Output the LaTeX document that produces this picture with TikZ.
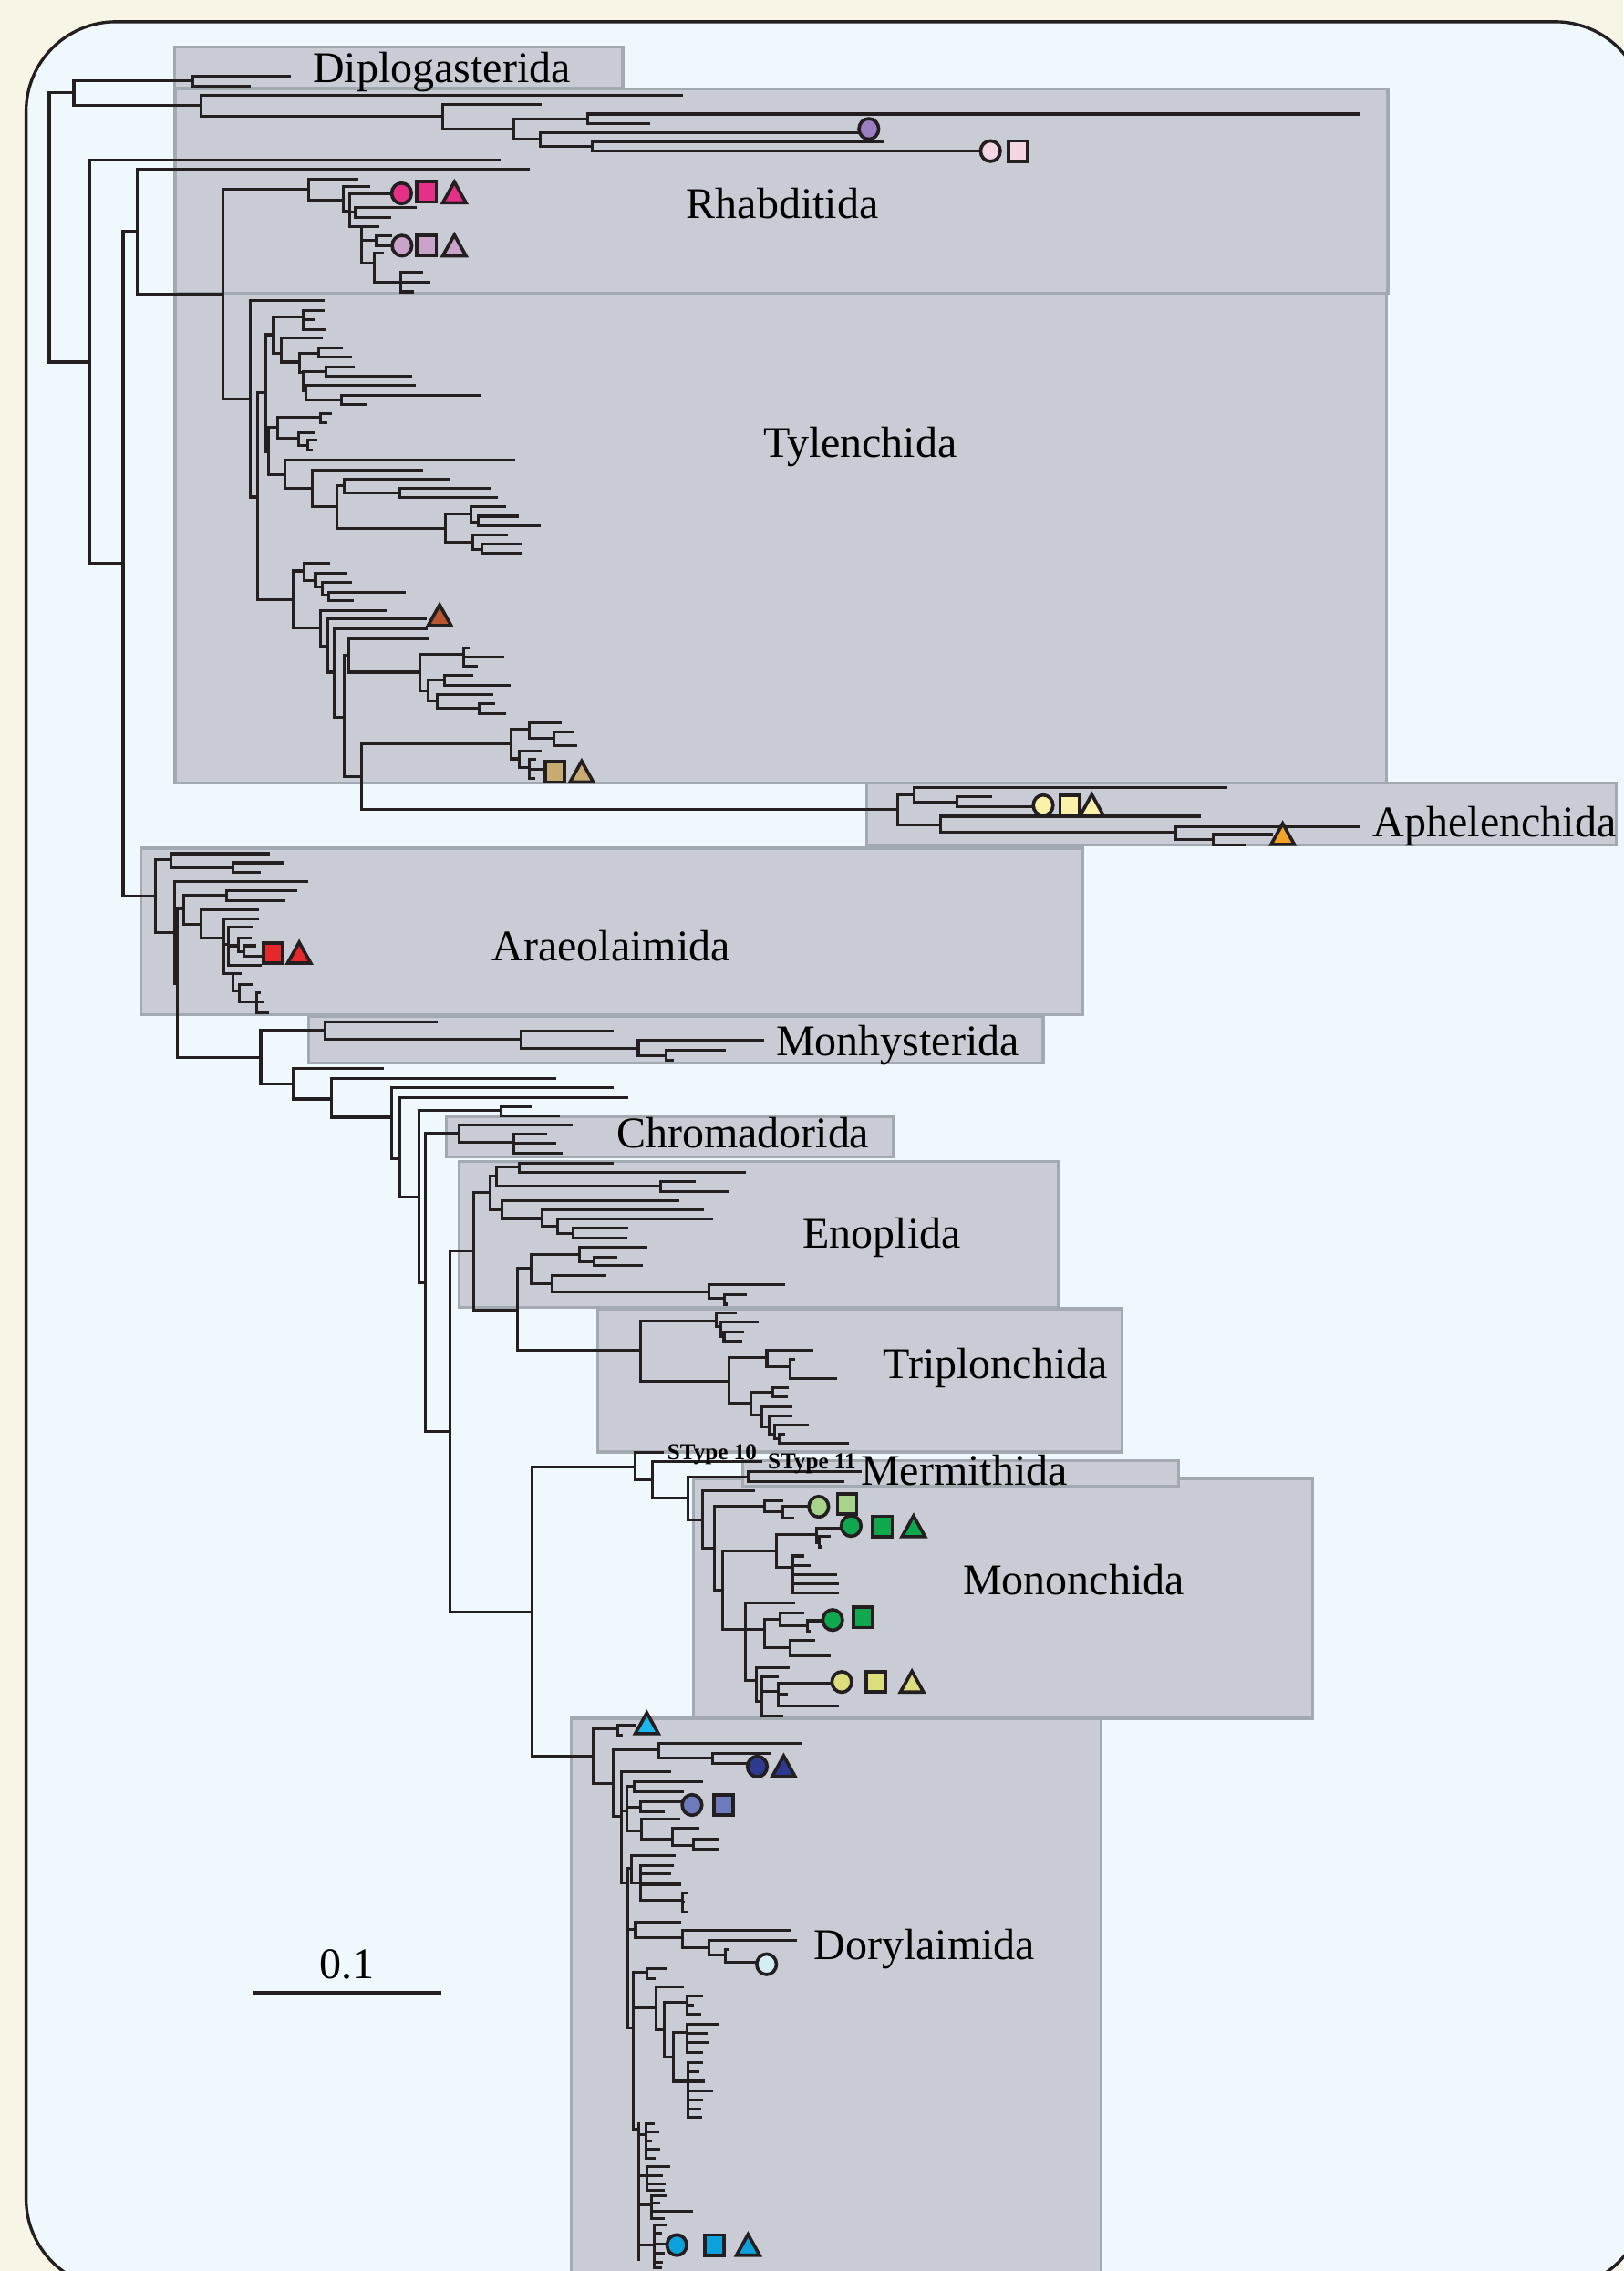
\documentclass[tikz,border=0pt]{standalone}
\usepackage{fontspec}
\setmainfont{Liberation Serif}
\definecolor{cream}{HTML}{F8F5E6}
\definecolor{framebg}{HTML}{EEF8FD}
\definecolor{boxfill}{HTML}{C9CCD4}
\definecolor{boxline}{HTML}{A3A9B1}
\definecolor{treeline}{HTML}{231F20}
\definecolor{cPurple}{HTML}{9C7FBF}
\definecolor{cPink}{HTML}{F4D5E5}
\definecolor{cMagenta}{HTML}{E62F86}
\definecolor{cMauve}{HTML}{C9A3CA}
\definecolor{cBrown}{HTML}{B95530}
\definecolor{cTan}{HTML}{C8AB72}
\definecolor{cLYellow}{HTML}{FBF2AA}
\definecolor{cOrange}{HTML}{F2A22A}
\definecolor{cRed}{HTML}{E4282C}
\definecolor{cLGreen}{HTML}{A8D38A}
\definecolor{cGreen}{HTML}{0FA84F}
\definecolor{cYGreen}{HTML}{DCDD7C}
\definecolor{cCyan}{HTML}{1BB7EC}
\definecolor{cNavy}{HTML}{2E3A8F}
\definecolor{cSlate}{HTML}{6E7CBE}
\definecolor{cLCyan}{HTML}{D4EEF6}
\definecolor{cBlue}{HTML}{0DA2DB}
\tikzset{
  tl/.style={draw=treeline, line width=0.55pt, line cap=rect},
  box/.style={fill=boxfill, draw=boxline, line width=0.6pt},
  mk/.style={draw=treeline, line width=0.65pt, line join=miter},
  lab/.style={font=\fontsize{8.6}{10}\selectfont, inner sep=0pt, text=black},
  stl/.style={font=\fontsize{4.5}{5}\selectfont\bfseries, inner sep=0pt, text=black}
}
\newcommand\mnd[4]{\draw[tl] (#1,#2)--(#1,#3);\foreach \yy/\ee in {#4}{\draw[tl] (#1,\yy)--(\ee,\yy);}}
\newcommand\mcirc[3]{\filldraw[mk,fill=#3] (#1,#2) ellipse [x radius=6.8, y radius=7.1];}
\newcommand\msq[3]{\filldraw[mk,fill=#3,shift={(#1,#2)}] (-6.7,-7) rectangle (6.7,7);}
\newcommand\mtri[3]{\filldraw[mk,fill=#3,shift={(#1,#2)}] (-8,7) -- (8,7) -- (0,-7.4) -- cycle;}
\begin{document}
\begin{tikzpicture}[x=0.1mm,y=-0.1mm]
\useasboundingbox (0,0) rectangle (1121,1568);
\fill[cream] (0,0) rectangle (1121,1568);
\filldraw[fill=framebg, draw=treeline, line width=0.6pt, rounded corners=6.2mm] (18,15) rectangle (1136,1580);
% clade boxes
\filldraw[box] (120.4,32.5) rectangle (430.2,60.9);
\filldraw[box] (120.8,61.3) rectangle (958.4,202.6);
\filldraw[box] (120.8,202.6) rectangle (957.3,540.8);
\filldraw[box] (598.6,540.4) rectangle (1116.2,583.6);
\filldraw[box] (97.4,585.6) rectangle (747.9,700.6);
\filldraw[box] (213.2,701.7) rectangle (720.5,734);
\filldraw[box] (308.2,770.7) rectangle (616.7,798.7);
\filldraw[box] (317,801.9) rectangle (731,902.7);
\filldraw[box] (412.8,903.7) rectangle (775,1002.4);
\filldraw[box] (479,1020.8) rectangle (906.4,1186.4);
\filldraw[box] (512.9,1008.6) rectangle (814,1026.5);
\filldraw[box] (394.7,1186.4) rectangle (760.2,1590);
% ---- tree: top
\mnd{34}{64}{250}{64/51, 250/62}
\mnd{51}{55.6}{73}{55.6/133, 73/139}
\mnd{133}{52.7}{59.4}{52.7/200, 59.4/172}
\mnd{139}{65.7}{80.4}{65.7/471, 80.4/306}
\mnd{306}{72}{89.2}{72/373, 89.2/355}
\mnd{355}{81.9}{96.1}{81.9/406, 96.1/373}
\mnd{406}{78.7}{85.2}{78.7/938, 85.2/448}
\mnd{373}{91.7}{101.2}{91.7/593, 101.2/409}
\mnd{409}{97.6}{104.3}{97.6/610, 104.3/677}
\mnd{62}{110.6}{389}{110.6/345, 389/85}
\mnd{85}{159.5}{618.6}{159.5/95, 618.6/107.2}
\mnd{95}{117}{203}{117/365, 203/154}
\mnd{154}{130.8}{275.2}{130.8/213.3, 275.2/172.6}
% Rhabditida clade 2
\mnd{213.3}{123.8}{138.1}{123.8/246.6, 138.1/236.8}
\mnd{236.8}{128.6}{145.9}{128.6/254.9, 145.9/241.5}
\mnd{241.5}{134}{156.4}{134/270, 146.5/245.1, 156.4/249.5}
\mnd{245.1}{143.4}{149.9}{143.4/286.7, 149.9/269.3}
\mnd{249.5}{156.4}{181.6}{156.4/261, 166/259.6, 181.6/258.5}
\mnd{259.6}{162.7}{169.6}{162.7/270, 169.6/270}
\mnd{258.5}{175}{194.8}{175/264, 194.8/276.6}
\mnd{276.6}{187.9}{201.5}{187.9/291, 194.8/296.5, 201.5/284.9}
% Tylenchida
\mnd{172.6}{207.7}{343.2}{207.7/223.5, 343.2/177.7}
\mnd{177.7}{271.3}{414.3}{271.3/183.3, 414.3/202.4}
\mnd{183.3}{231.1}{311.8}{231.1/188.9, 311.8/185.5}
\mnd{188.9}{219}{243.9}{219/209.4, 243.9/194.5}
\mnd{209.4}{214.2}{227.5}{214.2/223, 220.7/217, 227.5/224}
\mnd{194.5}{233.5}{250}{233.5/222.1, 250/206.6}
\mnd{206.6}{243.9}{257}{243.9/219.8, 257/209.4}
\mnd{219.8}{240}{246.7}{240/235.6, 246.7/241.8}
\mnd{209.4}{256.5}{270}{256.5/224.9, 270/211.4}
\mnd{224.9}{253.5}{260}{253.5/244, 260/283.4}
\mnd{211.4}{266}{276}{266/286.2, 276/235.6}
\mnd{235.6}{272.8}{279.3}{272.8/330.9, 279.3/252.2}
\mnd{185.5}{295}{327.5}{295/192, 327.5/196.8}
\mnd{192}{288.2}{302.7}{288.2/221.5, 302.7/206}
\mnd{221.5}{285.3}{292}{285.3/228.3, 292/225}
\mnd{206}{298.6}{307.5}{298.6/216.5, 307.5/212.3}
\mnd{212.3}{304}{311}{304/217.9, 311/215}
\mnd{196.8}{317.8}{337.1}{317.8/354.8, 337.1/215.9}
\mnd{215.9}{324.4}{349.9}{324.4/291, 349.9/232.8}
\mnd{232.8}{335.2}{364.8}{335.2/237.6, 364.8/307.8}
\mnd{237.6}{331.1}{340.3}{331.1/309.8, 340.3/276}
\mnd{276}{337.1}{343.6}{337.1/338, 343.6/343}
\mnd{307.8}{354.7}{374.5}{354.7/325.5, 374.5/326.7}
\mnd{325.5}{349.9}{360.5}{349.9/348.6, 360.5/330.5}
\mnd{330.5}{356.4}{362.9}{356.4/357.6, 362.9/372.5}
\mnd{326.7}{369.2}{379.3}{369.2/350, 379.3/333}
\mnd{333}{375.7}{382.2}{375.7/359.3, 382.2/359.3}
\mnd{202.4}{394.2}{433.5}{394.2/210.3, 433.5/221.3}
\mnd{210.3}{388.9}{401}{388.9/227.2, 401/217.9}
\mnd{217.9}{395.5}{405}{395.5/239, 405/222.7}
\mnd{222.7}{402.2}{411}{402.2/241.8, 411/227.2}
\mnd{227.2}{408.7}{414.7}{408.7/279.2, 414.7/243.2}
\mnd{221.3}{421.5}{446.3}{421.5/266.2, 446.3/226.3}
\mnd{226.3}{427.5}{464.1}{427.5/294, 464.1/231.1}
\mnd{231.1}{434.3}{495}{434.3/294.3, 495/237.6}
\mnd{237.6}{452.3}{536.4}{452.3/241, 536.4/249.6}
\mnd{241}{440.8}{464.1}{440.8/295.2, 464.1/290.1}
\mnd{290.1}{451.6}{477}{451.6/320, 477/295.8}
\mnd{320}{447.3}{460}{447.3/323.3, 453.5/347.2, 460/328.9}
\mnd{295.8}{469.7}{484.1}{469.7/307, 484.1/301.7}
\mnd{307}{466.5}{473.3}{466.5/325.6, 473.3/351.4}
\mnd{301.7}{479.3}{489}{479.3/339.6, 489/331.2}
\mnd{331.2}{485.8}{492.6}{485.8/340.7, 492.6/348.6}
\mnd{249.6}{513.8}{558.9}{513.8/352.8, 558.9/619.7}
\mnd{352.8}{503.4}{523.9}{503.4/365.5, 523.9/358.4}
\mnd{365.5}{499.1}{509.8}{499.1/387.1, 509.8/382.3}
\mnd{382.3}{505.1}{514.5}{505.1/395, 514.5/397.8}
\mnd{358.4}{518.4}{530}{518.4/373, 530/365.5}
\mnd{365.5}{524.3}{537.7}{524.3/369.4, 531/376, 537.7/368.5}
% Aphelenchida
\mnd{619.7}{548.9}{569.3}{548.9/631, 569.3/649.7}
\mnd{631}{543.7}{553.8}{543.7/846.6, 553.8/660.7}
\mnd{660.7}{550}{556.7}{550/684.4, 556.7/713}
\mnd{649.7}{563.6}{574.5}{563.6/828.2, 574.5/812.3}
\mnd{812.3}{570.6}{579.4}{570.6/937.7, 579.4/838.1}
\mnd{838.1}{576.2}{583.6}{576.2/878, 583.6/859.3}
% Araeolaimida
\mnd{107.2}{593.6}{644}{593.6/118.2, 644/120.4}
\mnd{118.2}{589.4}{599.2}{589.4/185.4, 599.2/161.1}
\mnd{161.1}{595.7}{602.4}{595.7/194.7, 602.4/179.2}
\mnd{120.4}{608.7}{679}{608.7/211.9, 679/122.6}
\mnd{122.6}{627.6}{730}{627.6/127.1, 730/180.1}
\mnd{127.1}{618.1}{638}{618.1/156.7, 638/139}
\mnd{156.7}{615}{621.7}{615/204.4, 621.7/196.4}
\mnd{139}{628.2}{647.5}{628.2/177.9, 647.5/154.5}
\mnd{154.5}{634.5}{672}{634.5/177.9, 652/158, 672/161}
\mnd{158}{640.2}{666.4}{640.2/174.3, 653/164.6, 666.4/180}
\mnd{164.6}{647.5}{657}{647.5/172.6, 657/168.2}
\mnd{168.2}{653}{660}{653/176, 660/181}
\mnd{161}{672}{684.3}{672/166, 684.3/165.5}
\mnd{165.5}{679.6}{691.6}{679.6/173.4, 691.6/177}
\mnd{177}{685.3}{699.4}{685.3/179, 692/181, 699.4/184.5}
% Monhysterida and backbone
\mnd{180.1}{711.1}{748.3}{711.1/224.3, 748.3/202.2}
\mnd{224.3}{705.7}{717.8}{705.7/301.6, 717.8/360}
\mnd{360}{712}{723.7}{712/423.1, 723.7/440.8}
\mnd{440.8}{718.3}{728.8}{718.3/527, 728.8/459.8}
\mnd{459.8}{725.2}{732.1}{725.2/500.5, 732.1/464.2}
\mnd{202.2}{737.8}{758.8}{737.8/264, 758.8/228.7}
\mnd{228.7}{744.7}{771.4}{744.7/383.4, 771.4/270.7}
\mnd{270.7}{751}{800}{751/423.1, 800/276}
\mnd{276}{757.7}{826.5}{757.7/432.9, 826.5/289.1}
\mnd{289.1}{766.8}{885.4}{766.8/345.8, 885.4/293.5}
\mnd{345.8}{764}{770.3}{764/366.1, 770.3/385.6}
\mnd{293.5}{782.5}{988.3}{782.5/317.1, 988.3/310.8}
\mnd{317.1}{776.6}{788.6}{776.6/394.4, 788.6/354.6}
\mnd{354.6}{782.9}{796}{782.9/376.7, 789.5/383.4, 796/387.8}
\mnd{310.8}{863.8}{1113}{863.8/327.1, 1113/367.6}
% Enoplida
\mnd{327.1}{823.3}{904.8}{823.3/338.7, 904.8/357.5}
\mnd{338.7}{812}{835}{812/343, 835/346.6}
\mnd{343}{805.7}{819.1}{805.7/358.6, 819.1/456.2}
\mnd{358.6}{803}{809.2}{803/423, 809.2/514}
\mnd{456.2}{815.5}{822.5}{815.5/479.7, 822.5/502.1}
\mnd{346.6}{828.8}{841.3}{828.8/468.1, 841.3/374.1}
\mnd{374.1}{835.1}{846.4}{835.1/485.1, 846.4/385}
\mnd{385}{841.4}{851.9}{841.4/491.2, 851.9/395.8}
\mnd{395.8}{848.1}{854.8}{848.1/432.7, 854.8/432}
\mnd{357.5}{875.8}{932.5}{875.8/366.9, 932.5/442.4}
\mnd{366.9}{865.9}{886.3}{865.9/400.1, 886.3/381.3}
\mnd{400.1}{861.1}{871.2}{861.1/446, 871.2/410.3}
\mnd{410.3}{868}{873.7}{868/425.4, 873.7/442.8}
\mnd{381.3}{880.6}{891.7}{880.6/417.5, 891.7/489.8}
\mnd{489.8}{886.9}{896.4}{886.9/541.1, 896.4/500.6}
\mnd{500.6}{893.8}{900.5}{893.8/514.7, 900.5/501.5}
% Triplonchida
\mnd{442.4}{912.1}{953.5}{912.1/494.8, 953.5/503.2}
\mnd{494.8}{906.4}{916}{906.4/507.9, 916/497.5}
\mnd{497.5}{912.7}{922.5}{912.7/523, 922.5/500}
\mnd{500}{919.4}{925.7}{919.4/513, 925.7/511.5}
\mnd{503.2}{937.3}{968.8}{937.3/529.6, 968.8/518.7}
\mnd{529.6}{932}{943.6}{932/561, 943.6/545.5}
\mnd{545.5}{938.3}{951.9}{938.3/548.4, 951.9/577.3}
\mnd{518.7}{961}{977.2}{961/533.9, 977.2/526}
\mnd{533.9}{958.3}{964.6}{958.3/544, 964.6/543}
\mnd{526}{971.5}{985}{971.5/546.5, 985/531}
\mnd{531}{977.8}{990}{977.8/546.5, 990/535}
\mnd{535}{984.1}{993.5}{984.1/557.4, 993.5/538}
\mnd{538}{990.4}{996.7}{990.4/541, 996.7/585.2}
% Mermithida / Mononchida
\mnd{367.6}{1012.8}{1212.3}{1012.8/438.5, 1212.3/409.6}
\mnd{438.5}{1003}{1021.9}{1003/457.3, 1021.9/450.8}
\mnd{450.8}{1009.3}{1034.5}{1009.3/525.3, 1034.5/475.4}
\mnd{475.4}{1019.8}{1049.6}{1019.8/517, 1049.6/485.2}
\mnd{517}{1016}{1022.7}{1016/594, 1022.7/582.1}
\mnd{485.2}{1029}{1068.9}{1029/520.6, 1068.9/493.5}
\mnd{493.5}{1040.1}{1097.8}{1040.1/527.8, 1097.8/498.9}
\mnd{527.8}{1035.9}{1044}{1035.9/539.8, 1044/540.5}
\mnd{540.5}{1040}{1048}{1040/558, 1048/547.7}
\mnd{498.9}{1071}{1125.1}{1071/536.2, 1125.1/514.5}
\mnd{536.2}{1059.6}{1082.1}{1059.6/564, 1082.1/547.7}
\mnd{564}{1054.8}{1065}{1054.8/580.5, 1065/565.8}
\mnd{565.8}{1061}{1068}{1061/573, 1068/567}
\mnd{547.7}{1074.3}{1100}{1074.3/554.2, 1080.7/558.6, 1087/577.4, 1093.5/578.5, 1100/578.5}
\mnd{514.5}{1106.7}{1160}{1106.7/548.4, 1125/527.8, 1160/522.4}
\mnd{527.8}{1117.8}{1137.7}{1117.8/538.7, 1137.7/545.9}
\mnd{538.7}{1113.6}{1122.6}{1113.6/554.2, 1122.6/557.8}
\mnd{557.8}{1119}{1126}{1119/568, 1126/559}
\mnd{545.9}{1132.5}{1143}{1132.5/562.2, 1143/573}
\mnd{522.4}{1151.4}{1175}{1151.4/544.1, 1175/526}
\mnd{526}{1158}{1185}{1158/537, 1168/537.5, 1185/540}
\mnd{537.5}{1162}{1178}{1162/574.5, 1170/543, 1178/578.5}
% Dorylaimida
\mnd{409.6}{1193.6}{1231.5}{1193.6/426.5, 1231.5/423.7}
\mnd{426.5}{1191}{1197.9}{1191/437.7, 1197.9/429.3}
\mnd{423.7}{1208}{1254.3}{1208/455.2, 1254.3/429.3}
\mnd{455.2}{1203.7}{1213.8}{1203.7/553, 1213.8/492.3}
\mnd{492.3}{1210.5}{1217.5}{1210.5/531, 1217.5/516}
\mnd{429.3}{1223}{1300}{1223/462.8, 1250/432.7, 1300/433.5}
\mnd{432.7}{1233}{1264}{1233/437.7, 1248/442.5, 1264/443}
\mnd{437.7}{1230}{1237}{1230/484.7, 1237/471.5}
\mnd{442.5}{1244}{1251}{1244/471, 1251/458}
\mnd{443}{1256}{1270}{1256/468.7, 1270/464.2}
\mnd{464.2}{1262}{1274}{1262/481.9, 1274/479}
\mnd{479}{1270}{1277}{1270/495, 1277/495}
\mnd{433.5}{1290}{1400}{1290/436, 1332/438.9, 1400/437.5}
\mnd{436}{1281}{1300}{1281/465.6, 1300/442.5}
\mnd{442.5}{1288}{1312}{1288/464.2, 1294/462.2, 1301/469.2, 1312/471.5}
\mnd{471.5}{1307}{1320}{1307/474.3, 1313/472, 1320/474.3}
\mnd{438.9}{1327}{1338}{1327/469.2, 1338/471.5}
\mnd{471.5}{1333}{1345}{1333/545.7, 1345/489.5}
\mnd{489.5}{1339.5}{1350}{1339.5/549.3, 1350/500.7}
\mnd{500.7}{1346}{1355}{1346/502, 1355/522.5}
\mnd{437.5}{1362}{1470}{1362/446.7, 1386/452.9, 1470/441}
\mnd{446.7}{1359}{1366}{1359/460.2, 1366/451.8}
\mnd{452.9}{1371.7}{1401.5}{1371.7/471.5, 1401.5/458.5}
\mnd{458.5}{1382.5}{1420.5}{1382.5/474.3, 1420.5/465}
\mnd{474.3}{1378}{1391}{1378/484.7, 1384.5/478, 1391/483.3}
\mnd{465}{1403.5}{1437}{1403.5/474.3, 1437/475.4}
\mnd{474.3}{1397.7}{1417}{1397.7/496, 1404/487.5, 1410.5/489, 1417/484.7}
\mnd{475.4}{1424}{1462}{1424/484.7, 1430.5/481.9, 1437/485.5, 1443.6/491.2, 1450/484.7, 1456/483, 1462/483.6}
\mnd{441}{1466}{1560}{1474/446, 1502/447, 1522/450, 1550/452}
\mnd{446}{1466}{1490}{1466/451, 1472/454.6, 1478/449, 1484/455, 1490/452}
\mnd{447}{1496}{1512}{1496/462, 1502/457, 1508/459, 1512/458}
\mnd{450}{1516}{1532}{1516/460, 1521/455, 1527/477.7, 1532/458}
\mnd{452}{1536}{1566}{1536/460, 1542/456, 1549.5/460.5, 1556/458, 1562/457, 1566/456}
% ---- markers
\mcirc{600}{89}{cPurple}
\mcirc{684}{104.3}{cPink}\msq{703}{104.3}{cPink}
\mcirc{277.3}{133.5}{cMagenta}\msq{294.6}{132.5}{cMagenta}\mtri{313.8}{133}{cMagenta}
\mcirc{277.6}{169.6}{cMauve}\msq{294.6}{169.6}{cMauve}\mtri{313.8}{169.6}{cMauve}
\mtri{303.6}{425}{cBrown}
\msq{383.2}{532.9}{cTan}\mtri{401.7}{532.9}{cTan}
\mcirc{720.4}{556}{cLYellow}\msq{738.8}{556}{cLYellow}\mtri{754}{556}{cLYellow}
\mtri{885.8}{576}{cOrange}
\msq{188.5}{658}{cRed}\mtri{206.6}{658}{cRed}
\mcirc{565.4}{1040.3}{cLGreen}\msq{585}{1038.5}{cLGreen}
\mcirc{587.8}{1053.6}{cGreen}\msq{609.5}{1054}{cGreen}\mtri{630.9}{1054}{cGreen}
\mcirc{575}{1118.5}{cGreen}\msq{596}{1116.6}{cGreen}
\mcirc{581.3}{1161.3}{cYGreen}\msq{605}{1161.3}{cYGreen}\mtri{629.8}{1161.3}{cYGreen}
\mtri{446.7}{1190}{cCyan}
\mcirc{523}{1219.7}{cNavy}\mtri{541.2}{1219.7}{cNavy}
\mcirc{477.9}{1246.2}{cSlate}\msq{499.7}{1246.2}{cSlate}
\mcirc{529.4}{1356.2}{cLCyan}
\mcirc{467.4}{1550.1}{cBlue}\msq{493.4}{1550.1}{cBlue}\mtri{516.6}{1550.1}{cBlue}
% ---- labels
\node[lab, anchor=base] (diplo) at (305,57.1) {Diplogasterida};
\node[lab, anchor=base] (rhab) at (540.3,151.1) {Rhabditida};
\node[lab, anchor=base] (tyl) at (594,316) {Tylenchida};
\node[lab, anchor=base west] (aph) at (947.6,577.7) {Aphelenchida};
\node[lab, anchor=base] (araeo) at (422,663.7) {Araeolaimida};
\node[lab, anchor=base] (monh) at (620,728.8) {Monhysterida};
\node[lab, anchor=base] (chrom) at (513,792.4) {Chromadorida};
\node[lab, anchor=base] (enop) at (609,861.7) {Enoplida};
\node[lab, anchor=base] (tripl) at (687.5,952) {Triplonchida};
\node[lab, anchor=base] (merm) at (666,1025.4) {Mermithida};
\node[lab, anchor=base] (monon) at (741.5,1101) {Mononchida};
\node[lab, anchor=base] (dory) at (638.4,1352.9) {Dorylaimida};
\node[stl, anchor=base west] (st10) at (460.2,1008) {SType 10};
\node[stl, anchor=base west] (st11) at (529.6,1014.3) {SType 11};
% scale bar
\coordinate (sbl) at (174.7,1375.9);
\coordinate (sbr) at (304.9,1375.9);
\draw[tl, line cap=butt] (sbl) -- (sbr);
\node[lab, anchor=base] (sbt) at (239.8,1366) {0.1};
\end{tikzpicture}
\end{document}
